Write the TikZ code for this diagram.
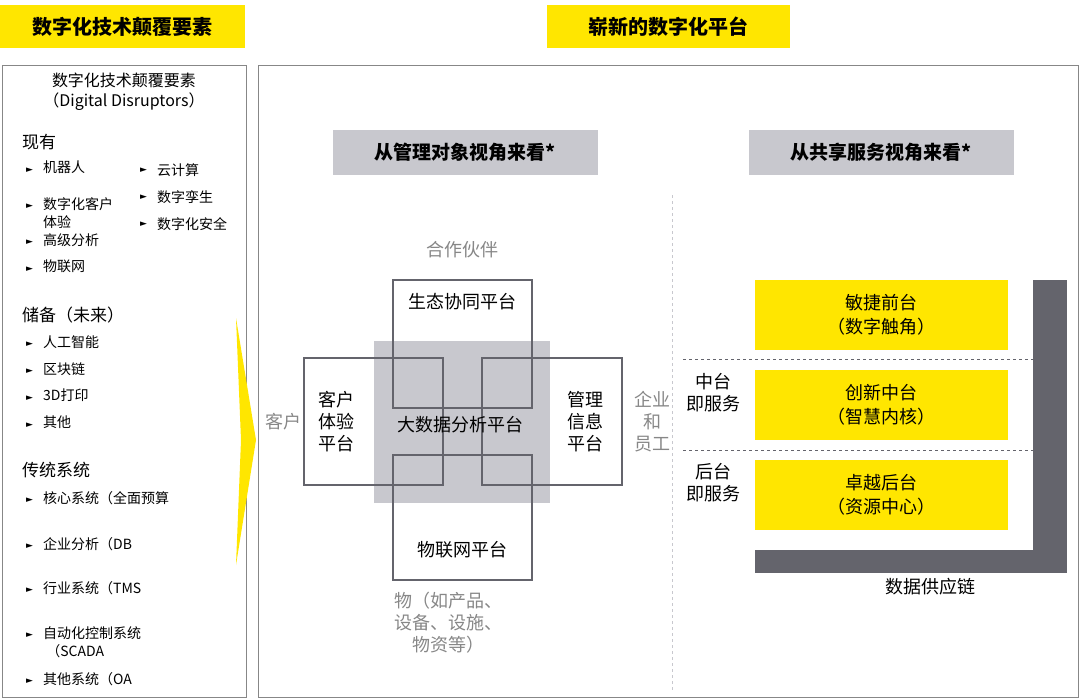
\documentclass[tikz,border=0pt]{standalone}
\usepackage{fontspec}
\setmainfont{Noto Sans CJK SC}
\newfontfamily\symfont{DejaVu Sans}
\usetikzlibrary{positioning}
\definecolor{eyyellow}{RGB}{255,230,0}
\definecolor{headgray}{RGB}{200,200,206}
\definecolor{bargray}{RGB}{100,100,108}
\definecolor{txtgray}{RGB}{135,135,135}
\tikzset{
  banner/.style={fill=eyyellow,minimum width=#1,minimum height=43pt,font=\fontsize{20}{22}\selectfont\bfseries,inner sep=0pt},
  viewhead/.style={fill=headgray,minimum width=265pt,minimum height=45pt,font=\fontsize{19}{21}\selectfont\bfseries,inner sep=0pt},
  item/.style={anchor=west,font=\fontsize{14}{18}\selectfont,inner sep=0pt,align=left},
  group/.style={anchor=west,font=\fontsize{17}{20}\selectfont,inner sep=0pt},
  plat/.style={draw=bargray,line width=1.2pt},
  platlabel/.style={font=\fontsize{18}{22}\selectfont,inner sep=0pt,align=center},
  side/.style={font=\fontsize{18}{22}\selectfont,text=txtgray,inner sep=0pt,align=center},
  ybox/.style={fill=eyyellow,minimum width=253pt,minimum height=70pt,font=\fontsize{18}{24}\selectfont,align=center,inner sep=0pt},
}
\newcommand{\tri}{{\symfont\fontsize{9}{9}\selectfont ►}}
\begin{document}
\begin{tikzpicture}[x=1pt,y=-1pt]
\useasboundingbox (0,0) rectangle (1080,699);

% banners
\node[banner=245pt] (bannerL) at (122.5,26.5) {数字化技术颠覆要素};
\node[banner=243pt] (bannerM) at (668.5,26.5) {崭新的数字化平台};

% panels
\draw[draw=txtgray,line width=1pt] (2,65) rectangle (246,697);
\draw[draw=txtgray,line width=1pt] (258,65) rectangle (1078,697);
\fill[eyyellow] (236,318) -- (256,440) -- (236,565) -- (241,440) -- cycle;

% left panel text
\node[font=\fontsize{16}{20}\selectfont,align=center,inner sep=0pt] (leftTitle) at (124,92) {数字化技术颠覆要素\\（Digital Disruptors）};
\node[group] (gNow) at (22,142) {现有};
\node[group] (gFuture) at (22,315) {储备（未来）};
\node[group] (gLegacy) at (22,470) {传统系统};
\foreach \y/\txt [count=\n] in {170/机器人, 206/数字化客户\\体验, 242/高级分析, 269/物联网,
    344/人工智能, 371/区块链, 398/3D打印, 425/其他} {
  \node[item] (m\n) at (26,\y) {\tri};
  \node[item,anchor=north west] (i\n) at (43,\y-9) {\txt};
}
\foreach \y/\txt [count=\n] in {170/云计算, 197/数字孪生, 224/数字化安全} {
  \node[item] (mc\n) at (140,\y) {\tri};
  \node[item] (ic\n) at (157,\y) {\txt};
}
\foreach \y/\txt [count=\n] in {500/核心系统（全面预算/计划\\管理/ERP/CRM/SCM等）, 546/企业分析（DB/BI/大数据分\\析）,
    590/行业系统（TMS/DMS/研发\\系统等）, 635/自动化控制系统\\\ （SCADA/DCS/PLC）, 681/其他系统（OA/知识管理等）} {
  \node[item] (ml\n) at (26,\y) {\tri};
  \node[item,anchor=north west] (il\n) at (43,\y-9) {\txt};
}

% view headings
\node[viewhead] (headMgmt) at (465.5,152.5) {从管理对象视角来看*};
\node[viewhead] (headShare) at (881.5,152.5) {从共享服务视角来看*};
\draw[draw=headgray,dashed,line width=0.8pt] (672,195) -- (672,690);

% platforms
\fill[headgray] (374,341) rectangle (550,503);
\draw[plat] (393,280) rectangle (532,408);
\draw[plat] (304,358) rectangle (443,485);
\draw[plat] (482,358) rectangle (622,485);
\draw[plat] (393,455) rectangle (532,580);
\node[platlabel] (pEco) at (462,302) {生态协同平台};
\node[platlabel] (pCust) at (336,422) {客户\\体验\\平台};
\node[platlabel] (pMgmt) at (585,422) {管理\\信息\\平台};
\node[platlabel] (pIot) at (462,550) {物联网平台};
\node[platlabel] (pData) at (460,425) {大数据分析平台};
\node[side] (sPartner) at (462,250) {合作伙伴};
\node[side] (sCust) at (283,422) {客户};
\node[side] (sStaff) at (652,422) {企业\\和\\员工};
\node[side] (sThing) at (448,623) {物（如产品、\\设备、设施、\\物资等）};

% shared services
\fill[bargray] (1033,280) rectangle (1067,573);
\fill[bargray] (755,550) rectangle (1067,573);
\node[ybox] (front) at (881.5,315) {敏捷前台\\（数字触角）};
\node[ybox] (middle) at (881.5,405) {创新中台\\（智慧内核）};
\node[ybox] (back) at (881.5,495) {卓越后台\\（资源中心）};
\draw[dashed,draw=bargray] (683,359) -- (1033,359);
\draw[dashed,draw=bargray] (683,450) -- (1033,450);
\node[platlabel] (midSvc) at (713,393) {中台\\即服务};
\node[platlabel] (backSvc) at (713,483) {后台\\即服务};
\node[platlabel] (chain) at (930,587) {数据供应链};
\end{tikzpicture}
\end{document}
